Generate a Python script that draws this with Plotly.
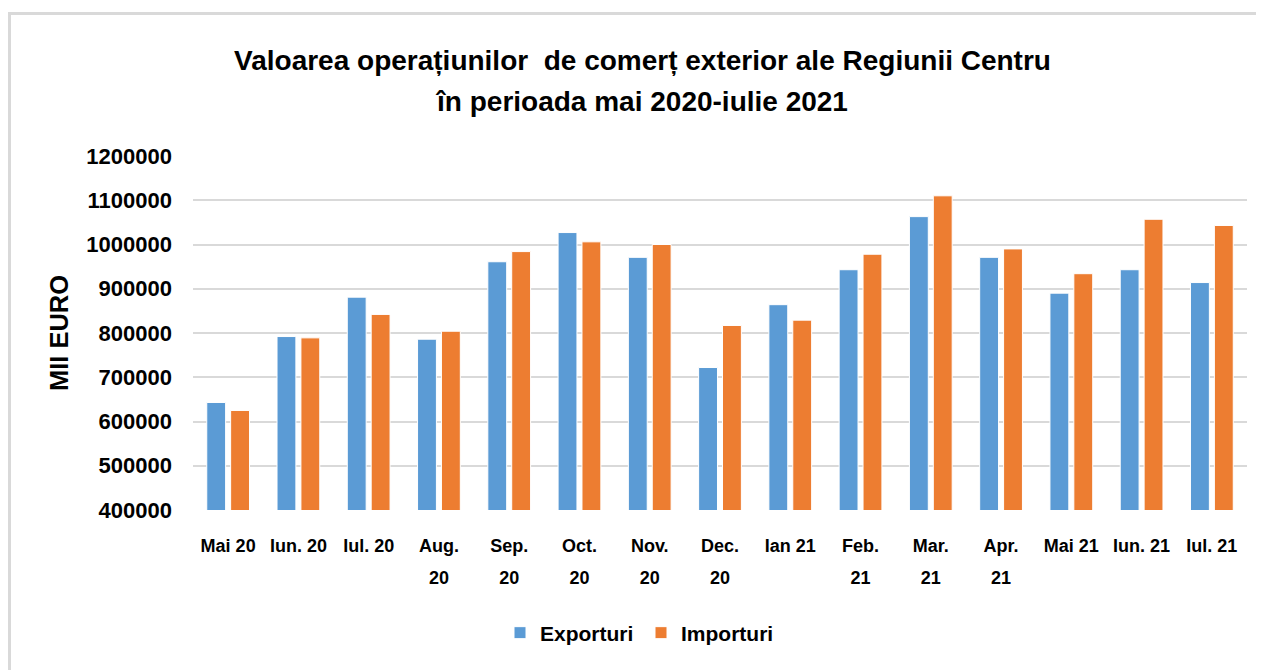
import plotly.graph_objects as go

months = ["Mai 20", "Iun. 20", "Iul. 20", "Aug. 20", "Sep. 20", "Oct. 20", "Nov. 20",
          "Dec. 20", "Ian 21", "Feb. 21", "Mar. 21", "Apr. 21", "Mai 21", "Iun. 21", "Iul. 21"]
tick_labels = ["Mai 20", "Iun. 20", "Iul. 20", "Aug.<br>20", "Sep.<br>20", "Oct.<br>20",
               "Nov.<br>20", "Dec.<br>20", "Ian 21", "Feb.<br>21", "Mar.<br>21", "Apr.<br>21",
               "Mai 21", "Iun. 21", "Iul. 21"]
exporturi = [643000, 792000, 881000, 786000, 961000, 1027000, 971000,
             722000, 864000, 943000, 1063000, 971000, 890000, 943000, 914000]
importuri = [625000, 789000, 842000, 804000, 984000, 1006000, 1000000,
             817000, 829000, 978000, 1110000, 990000, 934000, 1057000, 1043000]
y_ticks = [400000, 500000, 600000, 700000, 800000, 900000, 1000000, 1100000, 1200000]

OFF = 8  # page body margin
W, H = 1264 - OFF, 670 - OFF
# plot area in screen coordinates: x 193..1247, y 156..510
L, R, T, B = 193 - OFF, 1264 - 1247, 156 - OFF, 670 - 510
PW, PH = W - L - R, H - T - B


def px_x(x):
    return (x - OFF - L) / PW


def px_y(y):
    return (H - B - (y - OFF)) / PH


FONT = "Liberation Sans, Arial, sans-serif"


def sized(s, size):
    return "<br>".join(f"<span style='font-size:{size}px'>{p}</span>" for p in s.split("<br>"))


fig = go.Figure()
fig.add_trace(go.Bar(x=months, y=exporturi, name="<b>Exporturi</b>",
                     marker=dict(color="#5B9BD5", line=dict(color="white", width=1))))
fig.add_trace(go.Bar(x=months, y=importuri, name="<b>Importuri</b>",
                     marker=dict(color="#ED7D31", line=dict(color="white", width=1))))

title_txt = "Valoarea operațiunilor  de comerț exterior ale Regiunii Centru<br>în perioada mai 2020-iulie 2021"

fig.update_layout(
    width=W, height=H,
    margin=dict(l=L, r=R, t=T, b=B, autoexpand=False),
    paper_bgcolor="white", plot_bgcolor="white",
    font=dict(family=FONT, color="black"),
    barmode="group", bargap=0.32, bargroupgap=0.21,
    title=dict(text=f"<b>{sized(title_txt, 28)}</b>",
               x=(642.5 - OFF) / W, xanchor="center", xref="container",
               y=1 - (69.5 - OFF) / H, yanchor="middle", yref="container",
               font=dict(size=32, family=FONT, color="black")),
    legend=dict(orientation="h", x=px_x(500), xanchor="left", y=px_y(633), yanchor="middle",
                font=dict(size=21, family=FONT, color="black"),
                entrywidth=96, entrywidthmode="pixels", traceorder="normal"),
    xaxis=dict(tickmode="array", tickvals=months, ticktext=[f"<b>{sized(t, 18)}</b>" for t in tick_labels],
               tickangle=0, tickfont=dict(size=24.6, family=FONT, color="black"), ticklabelstandoff=16,
               showgrid=False, showline=False, ticks=""),
    yaxis=dict(range=[400000, 1200000], tickvals=y_ticks, ticktext=[f"<b>{v}</b>" for v in y_ticks],
               tickfont=dict(size=22, family=FONT, color="black"), ticklabelstandoff=20,
               showgrid=True, gridcolor="#D9D9D9", gridwidth=2, zeroline=False, showline=False,
               title=dict(text="<b>MII EURO</b>", font=dict(size=25.5, family=FONT, color="black"), standoff=10)),
    shapes=[
        dict(type="line", xref="paper", yref="paper", x0=px_x(9.5), x1=px_x(1270), y0=px_y(13.5), y1=px_y(13.5),
             line=dict(color="#D9D9D9", width=3), layer="below"),
        dict(type="line", xref="paper", yref="paper", x0=px_x(9.5), x1=px_x(9.5), y0=px_y(12), y1=px_y(680),
             line=dict(color="#D9D9D9", width=3), layer="below"),
    ],
)

fig.write_html("out.html")
